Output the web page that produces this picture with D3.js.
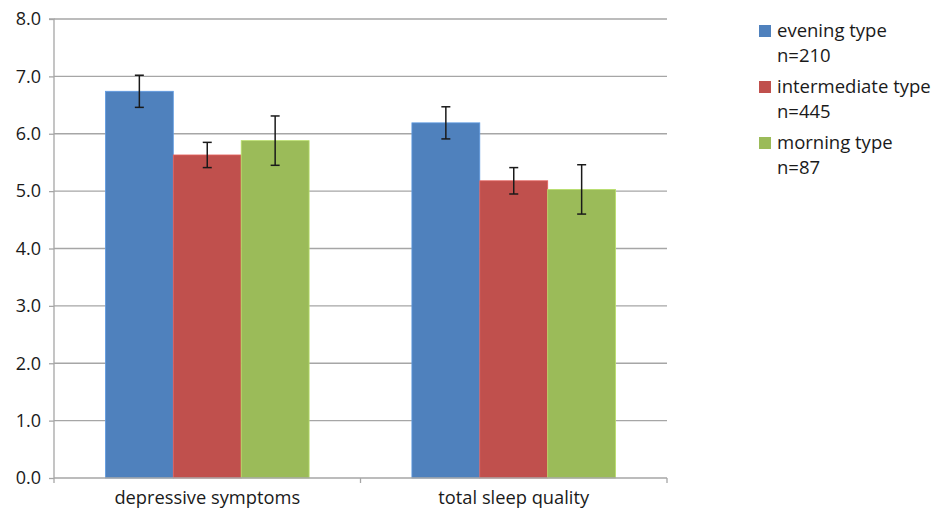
<!DOCTYPE html>
<html><head><meta charset="utf-8">
<script src="https://cdn.jsdelivr.net/npm/d3@7"></script>
<style>body{margin:0;background:#fff}svg{display:block}text{font-family:"Open Sans",sans-serif;fill:#1a1a1a}</style>
</head><body><svg id="c" width="932" height="510"></svg>
<script>
const categories = ["depressive symptoms", "total sleep quality"];
const seriesNames = ["evening type", "intermediate type", "morning type"];
const seriesN = ["n=210", "n=445", "n=87"];
const colors = ["#4f81bd", "#c0504d", "#9bbb59"];
const eveningVals = [6.74, 6.19];
const intermediateVals = [5.63, 5.18];
const morningVals = [5.88, 5.03];
const eveningErr = [0.28, 0.28];
const intermediateErr = [0.22, 0.23];
const morningErr = [0.43, 0.43];
const yTicks = [0, 1, 2, 3, 4, 5, 6, 7, 8];

const vals = [eveningVals, intermediateVals, morningVals];
const errs = [eveningErr, intermediateErr, morningErr];
const svg = d3.select("#c");
const L = 54, R = 667, T = 19, B = 478;
const x0 = d3.scaleBand().domain(categories).range([L, R]).paddingInner(0).paddingOuter(0);
const x1 = d3.scaleBand().domain(seriesNames).range([0, x0.bandwidth()]).paddingInner(0).paddingOuter(0.757);
const y = d3.scaleLinear().domain([0, 8]).range([B, T]);

// gridlines
svg.append("g").selectAll("line").data(yTicks.slice(1)).join("line")
  .attr("x1", L).attr("x2", R).attr("y1", d => y(d)).attr("y2", d => y(d))
  .attr("stroke", "#a6a6a6").attr("stroke-width", 1.3);

// bars
categories.forEach((c, ci) => {
  seriesNames.forEach((s, si) => {
    svg.append("rect").attr("x", x0(c) + x1(s)).attr("width", x1.bandwidth())
      .attr("y", y(vals[si][ci])).attr("height", y(0) - y(vals[si][ci]))
      .attr("fill", colors[si]).attr("stroke", d3.color(colors[si]).brighter(0.5)).attr("stroke-width", 0.8);
  });
});
// error bars
categories.forEach((c, ci) => {
  seriesNames.forEach((s, si) => {
    const cx = x0(c) + x1(s) + x1.bandwidth() / 2;
    const v = vals[si][ci], e = errs[si][ci];
    const g = svg.append("g").attr("stroke", "#1a1a1a").attr("stroke-width", 1.5);
    g.append("line").attr("x1", cx).attr("x2", cx).attr("y1", y(v + e)).attr("y2", y(v - e));
    g.append("line").attr("x1", cx - 4.5).attr("x2", cx + 4.5).attr("y1", y(v + e)).attr("y2", y(v + e));
    g.append("line").attr("x1", cx - 4.5).attr("x2", cx + 4.5).attr("y1", y(v - e)).attr("y2", y(v - e));
  });
});

// y axis
const ya = svg.append("g").attr("transform", `translate(${L},0)`)
  .call(d3.axisLeft(y).tickValues(yTicks).tickFormat(d3.format(".1f")).tickSize(5).tickPadding(8));
ya.select(".domain").attr("stroke", "#a6a6a6").attr("stroke-width", 1.3).attr("d", `M-5,${T}H0V${B}`);
ya.selectAll(".tick line").attr("stroke", "#a6a6a6").attr("stroke-width", 1.3);
ya.selectAll(".tick text").attr("font-size", 18).attr("font-family", "Open Sans").attr("fill", "#1a1a1a");

// x axis
const xa = svg.append("g").attr("transform", `translate(0,${B})`)
  .call(d3.axisBottom(x0).tickSize(0).tickPadding(0));
xa.select(".domain").attr("stroke", "#a6a6a6").attr("stroke-width", 1.3).attr("d", `M${L},0H${R}`);
xa.selectAll(".tick text").attr("font-size", 18.3).attr("font-family", "Open Sans").attr("fill", "#1a1a1a")
  .attr("dy", null).attr("y", 26);
const boundaries = [L, x0(categories[1]), R];
svg.append("g").selectAll("line").data(boundaries).join("line")
  .attr("x1", d => d).attr("x2", d => d).attr("y1", B).attr("y2", B + 5)
  .attr("stroke", "#a6a6a6").attr("stroke-width", 1.3);

// legend
const lg = svg.append("g").attr("transform", "translate(759,25)");
seriesNames.forEach((s, i) => {
  const g = lg.append("g").attr("transform", `translate(0,${i * 56})`);
  g.append("rect").attr("width", 12).attr("height", 12).attr("fill", colors[i]);
  g.append("text").attr("x", 18).attr("y", 12).attr("font-size", 18.5).text(s);
  g.append("text").attr("x", 18).attr("y", 37).attr("font-size", 18.5).text(seriesN[i]);
});
</script></body></html>
